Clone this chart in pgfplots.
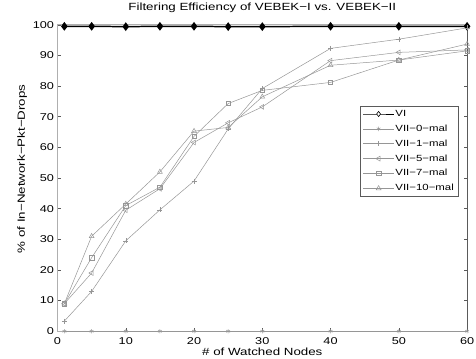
\documentclass[border=0pt]{standalone}
\usepackage{pgfplots}
\pgfplotsset{compat=1.18}
\usepackage{fontspec}
\setmainfont[FakeStretch=1.28]{Liberation Sans}
\definecolor{ln}{RGB}{150,150,150}
\definecolor{axl}{RGB}{175,175,175}
\definecolor{axd}{RGB}{90,90,90}
\begin{document}
\begin{tikzpicture}
\begin{axis}[
  scale only axis,
  width=413pt, height=309pt,
  xmin=0, xmax=60, ymin=0, ymax=100,
  xtick={0,10,...,60}, ytick={0,10,...,100},
  tick align=inside,
  tick style={axd, line width=0.5pt},
  major tick length=3.5pt,
  axis line style={axl, line width=0.8pt},
  tick label style={font=\fontsize{10}{12}\selectfont},
  xticklabel style={anchor=base, yshift=-13pt},
  /pgf/number format/assume math mode=true,
  title={Filtering Efficiency of VEBEK−I vs. VEBEK−II},
  title style={font=\fontsize{10.5}{12}\selectfont, at={(axis description cs:0.5,1)}, anchor=base, yshift=8.5pt},
  xlabel={\# of Watched Nodes},
  ylabel={\% of In−Network−Pkt−Drops},
  label style={font=\fontsize{10.5}{12}\selectfont},
  xlabel style={at={(axis description cs:0.5,0)}, anchor=base, yshift=-24.5pt},
  ylabel style={at={(axis description cs:-0.0799,0.53)}, anchor=base},
  legend style={at={(0.978,0.7356)}, anchor=north east, draw=axd, line width=0.5pt,
    font=\fontsize{9}{10}\selectfont, row sep=5pt, inner sep=3pt,
    nodes={inner sep=1pt, text height=6.5pt, text depth=1.5pt},
    cells={anchor=west}},
  legend cell align=left,
  legend image code/.code={\draw[mark repeat=2,mark phase=2,#1] plot coordinates {(0cm,0cm) (0.55cm,0cm) (1.1cm,0cm)};},
  clip=false,
]
\addplot[black, line width=1.5pt, mark=diamond*, mark size=3.2pt, mark options={solid, fill=black},
  legend image post style={line width=0.6pt, mark options={fill=white, line width=0.6pt}, mark size=2.6pt}] coordinates {
(1,99.5)(5,99.5)(10,99.4)(15,99.5)(20,99.5)(25,99.4)(30,99.4)(40,99.5)(50,99.5)(60,99.5)};
\addlegendentry{VI}
\addplot[ln, line width=0.5pt, mark=asterisk, mark size=2.2pt] coordinates {
(1,0)(5,0)(10,0)(15,0)(20,0)(25,0)(30,0)(40,0)(50,0)(60,0)};
\addlegendentry{VII−0−mal}
\addplot[ln, line width=0.5pt, mark=+, mark size=2.5pt] coordinates {
(1,3.3)(5,13)(10,29.5)(15,39.6)(20,49)(25,66)(30,79.2)(40,92.3)(50,95.3)(60,99)};
\addlegendentry{VII−1−mal}
\addplot[ln, line width=0.5pt, mark=triangle, mark options={rotate=90}, mark size=2.8pt] coordinates {
(1,9)(5,19)(10,39.5)(15,46.5)(20,61.6)(25,68)(30,73.2)(40,88.3)(50,91)(60,91.8)};
\addlegendentry{VII−5−mal}
\addplot[ln, line width=0.5pt, mark=square, mark size=2.2pt] coordinates {
(1,9)(5,24)(10,41)(15,47)(20,63.6)(25,74.3)(30,78.6)(40,81.2)(50,88.5)(60,91.5)};
\addlegendentry{VII−7−mal}
\addplot[ln, line width=0.5pt, mark=triangle, mark size=2.8pt] coordinates {
(1,9)(5,31)(10,41.5)(15,52)(20,65.3)(25,66.5)(30,76.5)(40,86.8)(50,88.5)(60,93.7)};
\addlegendentry{VII−10−mal}
\draw[axd, line width=0.8pt] (rel axis cs:1,0) -- (rel axis cs:1,1);
\coordinate (bl) at (rel axis cs:0,0);
\coordinate (tr) at (rel axis cs:1,1);
\end{axis}
\pgfresetboundingbox
\path ([shift={(-58pt,-28pt)}]bl) rectangle ([shift={(9pt,25pt)}]tr);
\end{tikzpicture}
\end{document}
